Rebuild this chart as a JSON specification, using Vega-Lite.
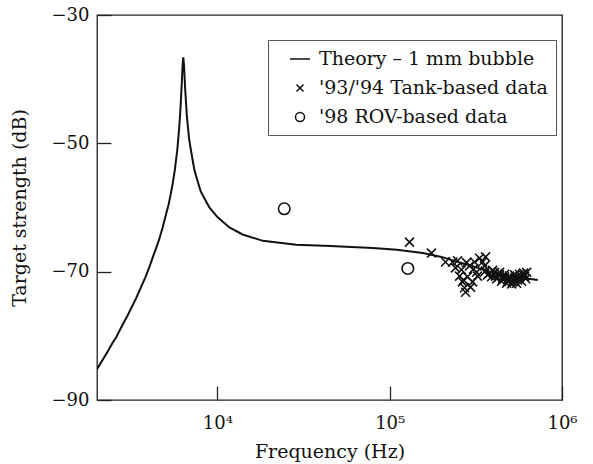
{
  "$schema": "https://vega.github.io/schema/vega-lite/v6.json",
  "width": 465,
  "height": 385,
  "autosize": {"type": "none"},
  "padding": {"left": 97, "top": 15, "right": 31, "bottom": 64},
  "config": {
    "font": "DejaVu Serif",
    "view": {"stroke": "#222", "strokeWidth": 1.3},
    "axis": {"domain": false, "grid": false, "tickColor": "#222", "tickWidth": 1.3, "labelColor": "#111", "titleColor": "#111", "labelFontSize": 18, "titleFontSize": 19, "titleFontWeight": "normal"}
  },
  "datasets": {
    "theory": [
      {"f": 2000, "ts": -85.2},
      {"f": 2150, "ts": -83.8},
      {"f": 2300, "ts": -82.5},
      {"f": 2450, "ts": -81.2},
      {"f": 2576, "ts": -80.3},
      {"f": 2800, "ts": -78.4},
      {"f": 3000, "ts": -76.9},
      {"f": 3200, "ts": -75.4},
      {"f": 3365, "ts": -74.2},
      {"f": 3550, "ts": -72.8},
      {"f": 3800, "ts": -71.0},
      {"f": 4000, "ts": -69.5},
      {"f": 4207, "ts": -67.8},
      {"f": 4400, "ts": -66.4},
      {"f": 4600, "ts": -64.9},
      {"f": 4800, "ts": -63.2},
      {"f": 5036, "ts": -61.0},
      {"f": 5200, "ts": -59.6},
      {"f": 5350, "ts": -58.0},
      {"f": 5500, "ts": -56.3},
      {"f": 5650, "ts": -54.3},
      {"f": 5850, "ts": -51.0},
      {"f": 6000, "ts": -47.6},
      {"f": 6100, "ts": -44.7},
      {"f": 6200, "ts": -41.0},
      {"f": 6280, "ts": -37.8},
      {"f": 6337, "ts": -36.6},
      {"f": 6400, "ts": -37.9},
      {"f": 6500, "ts": -41.6},
      {"f": 6650, "ts": -45.8},
      {"f": 6840, "ts": -49.2},
      {"f": 7031, "ts": -51.2},
      {"f": 7330, "ts": -54.0},
      {"f": 7516, "ts": -55.1},
      {"f": 8000, "ts": -57.5},
      {"f": 8978, "ts": -60.0},
      {"f": 10000, "ts": -61.5},
      {"f": 11740, "ts": -63.1},
      {"f": 14000, "ts": -64.2},
      {"f": 18360, "ts": -65.2},
      {"f": 28700, "ts": -65.8},
      {"f": 45000, "ts": -66.0},
      {"f": 79800, "ts": -66.3},
      {"f": 110000, "ts": -66.6},
      {"f": 155600, "ts": -67.1},
      {"f": 200000, "ts": -67.7},
      {"f": 243000, "ts": -68.4},
      {"f": 300000, "ts": -69.1},
      {"f": 380000, "ts": -70.0},
      {"f": 480000, "ts": -70.6},
      {"f": 593000, "ts": -71.0},
      {"f": 724000, "ts": -71.3}
    ],
    "obs": [
      {"f": 24430, "ts": -60.2, "series": "'98 ROV-based data"},
      {"f": 127400, "ts": -69.5, "series": "'98 ROV-based data"},
      {"f": 130200, "ts": -65.4, "series": "'93/'94 Tank-based data"},
      {"f": 174800, "ts": -67.1, "series": "'93/'94 Tank-based data"},
      {"f": 210800, "ts": -68.5, "series": "'93/'94 Tank-based data"},
      {"f": 247500, "ts": -68.3, "series": "'93/'94 Tank-based data"},
      {"f": 261200, "ts": -69.7, "series": "'93/'94 Tank-based data"},
      {"f": 282900, "ts": -70.8, "series": "'93/'94 Tank-based data"},
      {"f": 271900, "ts": -72.5, "series": "'93/'94 Tank-based data"},
      {"f": 264700, "ts": -71.6, "series": "'93/'94 Tank-based data"},
      {"f": 332300, "ts": -67.9, "series": "'93/'94 Tank-based data"},
      {"f": 319200, "ts": -70.1, "series": "'93/'94 Tank-based data"},
      {"f": 302600, "ts": -71.6, "series": "'93/'94 Tank-based data"},
      {"f": 355300, "ts": -69.1, "series": "'93/'94 Tank-based data"},
      {"f": 254300, "ts": -70.7, "series": "'93/'94 Tank-based data"},
      {"f": 290600, "ts": -69.1, "series": "'93/'94 Tank-based data"},
      {"f": 241000, "ts": -69.4, "series": "'93/'94 Tank-based data"},
      {"f": 310800, "ts": -68.5, "series": "'93/'94 Tank-based data"},
      {"f": 275500, "ts": -73.2, "series": "'93/'94 Tank-based data"},
      {"f": 231700, "ts": -68.5, "series": "'93/'94 Tank-based data"},
      {"f": 279200, "ts": -68.6, "series": "'93/'94 Tank-based data"},
      {"f": 294500, "ts": -72.4, "series": "'93/'94 Tank-based data"},
      {"f": 323500, "ts": -70.7, "series": "'93/'94 Tank-based data"},
      {"f": 345900, "ts": -68.5, "series": "'93/'94 Tank-based data"},
      {"f": 360100, "ts": -67.7, "series": "'93/'94 Tank-based data"},
      {"f": 268300, "ts": -71.3, "series": "'93/'94 Tank-based data"},
      {"f": 306700, "ts": -69.6, "series": "'93/'94 Tank-based data"},
      {"f": 379900, "ts": -70.2, "series": "'93/'94 Tank-based data"},
      {"f": 406200, "ts": -70.1, "series": "'93/'94 Tank-based data"},
      {"f": 434300, "ts": -70.5, "series": "'93/'94 Tank-based data"},
      {"f": 464400, "ts": -70.8, "series": "'93/'94 Tank-based data"},
      {"f": 496500, "ts": -71.1, "series": "'93/'94 Tank-based data"},
      {"f": 530900, "ts": -71.0, "series": "'93/'94 Tank-based data"},
      {"f": 567600, "ts": -70.8, "series": "'93/'94 Tank-based data"},
      {"f": 606800, "ts": -70.7, "series": "'93/'94 Tank-based data"},
      {"f": 623400, "ts": -70.1, "series": "'93/'94 Tank-based data"},
      {"f": 395500, "ts": -69.8, "series": "'93/'94 Tank-based data"},
      {"f": 422900, "ts": -70.4, "series": "'93/'94 Tank-based data"},
      {"f": 483400, "ts": -71.5, "series": "'93/'94 Tank-based data"},
      {"f": 516900, "ts": -71.6, "series": "'93/'94 Tank-based data"},
      {"f": 552600, "ts": -71.3, "series": "'93/'94 Tank-based data"},
      {"f": 452000, "ts": -71.1, "series": "'93/'94 Tank-based data"},
      {"f": 590800, "ts": -70.4, "series": "'93/'94 Tank-based data"},
      {"f": 360100, "ts": -69.9, "series": "'93/'94 Tank-based data"},
      {"f": 369800, "ts": -70.5, "series": "'93/'94 Tank-based data"},
      {"f": 390200, "ts": -70.8, "series": "'93/'94 Tank-based data"},
      {"f": 417300, "ts": -71.1, "series": "'93/'94 Tank-based data"},
      {"f": 446000, "ts": -71.5, "series": "'93/'94 Tank-based data"},
      {"f": 476900, "ts": -71.8, "series": "'93/'94 Tank-based data"},
      {"f": 510100, "ts": -71.9, "series": "'93/'94 Tank-based data"},
      {"f": 545200, "ts": -71.8, "series": "'93/'94 Tank-based data"},
      {"f": 583000, "ts": -71.5, "series": "'93/'94 Tank-based data"},
      {"f": 615200, "ts": -71.1, "series": "'93/'94 Tank-based data"},
      {"f": 434300, "ts": -70.1, "series": "'93/'94 Tank-based data"},
      {"f": 464400, "ts": -70.4, "series": "'93/'94 Tank-based data"},
      {"f": 496500, "ts": -70.7, "series": "'93/'94 Tank-based data"},
      {"f": 530900, "ts": -70.5, "series": "'93/'94 Tank-based data"},
      {"f": 567600, "ts": -70.4, "series": "'93/'94 Tank-based data"},
      {"f": 598800, "ts": -70.2, "series": "'93/'94 Tank-based data"},
      {"f": 411700, "ts": -70.7, "series": "'93/'94 Tank-based data"},
      {"f": 458200, "ts": -71.0, "series": "'93/'94 Tank-based data"},
      {"f": 523900, "ts": -71.3, "series": "'93/'94 Tank-based data"},
      {"f": 560100, "ts": -71.0, "series": "'93/'94 Tank-based data"},
      {"f": 489900, "ts": -71.1, "series": "'93/'94 Tank-based data"}
    ]
  },
  "layer": [
    {
      "data": {"name": "theory"},
      "mark": {"type": "line", "color": "#111", "strokeWidth": 2, "interpolate": "linear", "clip": true},
      "encoding": {
        "x": {"field": "f", "type": "quantitative", "scale": {"type": "log", "domain": [2000, 1000000], "nice": false},
          "axis": {"values": [10000, 100000, 1000000], "tickSize": -14, "labelPadding": 28, "labelFlush": false, "labelExpr": "datum.value == 10000 ? '10⁴' : datum.value == 100000 ? '10⁵' : '10⁶'", "title": "Frequency (Hz)", "titlePadding": 10}},
        "y": {"field": "ts", "type": "quantitative", "scale": {"domain": [-90, -30], "nice": false, "zero": false},
          "axis": {"values": [-90, -70, -50, -30], "tickSize": -14, "labelPadding": 22, "title": "Target strength (dB)", "titlePadding": 22}}
      }
    },
    {
      "data": {"name": "obs"},
      "mark": {"type": "point", "filled": false, "color": "#111", "strokeWidth": 1.6, "size": 660, "opacity": 1},
      "encoding": {
        "x": {"field": "f", "type": "quantitative"},
        "y": {"field": "ts", "type": "quantitative"},
        "shape": {"field": "series", "type": "nominal",
          "scale": {"domain": ["Theory – 1 mm bubble", "'93/'94 Tank-based data", "'98 ROV-based data"],
                    "range": ["M-1,0H1", "M-0.35,-0.35L0.35,0.35M-0.35,0.35L0.35,-0.35", "M0.45,0A0.45,0.45,0,1,1,-0.45,0A0.45,0.45,0,1,1,0.45,0"]},
          "legend": {"orient": "none", "legendX": 171, "legendY": 25, "title": null, "strokeColor": "#555", "padding": 8, "symbolOffset": 13, "symbolSize": 400, "symbolStrokeWidth": 1.5, "symbolStrokeColor": "#111", "labelFontSize": 19, "labelColor": "#111", "labelOffset": 8, "rowPadding": 8, "labelLimit": 400}}
      }
    }
  ]
}
